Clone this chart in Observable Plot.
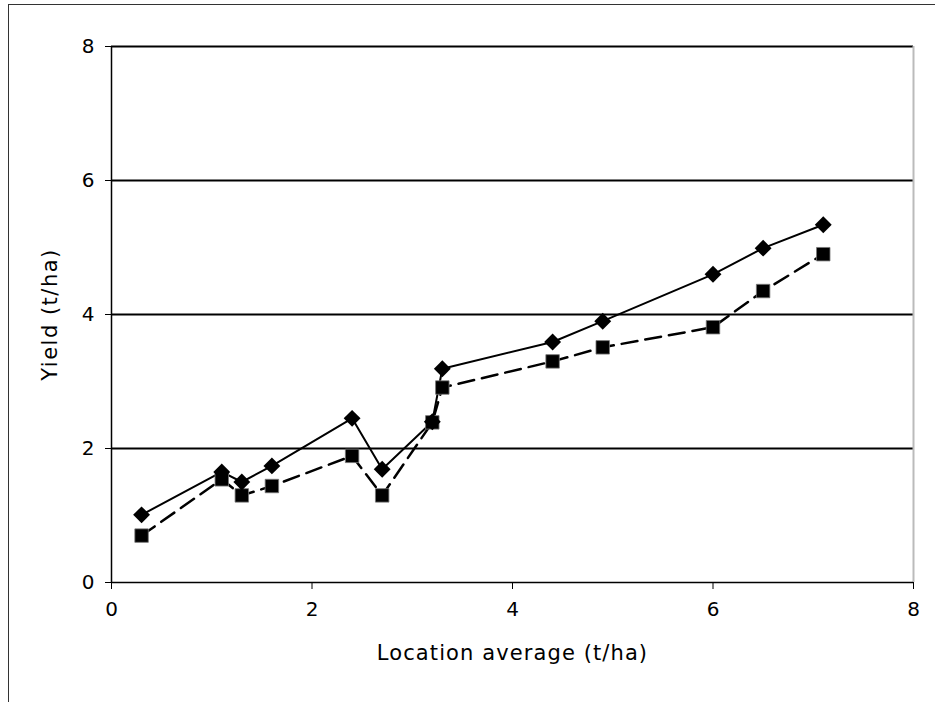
<!DOCTYPE html>
<html><head><meta charset="utf-8">
<script src="https://cdn.jsdelivr.net/npm/d3@7"></script>
<script src="https://cdn.jsdelivr.net/npm/@observablehq/plot@0.6"></script>
<style>
body{margin:0;background:#fff;}
#wrap{position:relative;width:935px;height:702px;overflow:hidden;}
#frame{position:absolute;left:8px;top:4px;right:-10px;bottom:-10px;border-top:1.5px solid #333;border-left:1.5px solid #333;pointer-events:none;}
svg{display:block;}
</style></head><body>
<div id="wrap"><div id="chart"></div><div id="frame"></div></div>
<script>
const locationAvg = [0.3, 1.1, 1.3, 1.6, 2.4, 2.7, 3.2, 3.3, 4.4, 4.9, 6.0, 6.5, 7.1];
const yieldDiamond = [1.01, 1.65, 1.50, 1.74, 2.45, 1.69, 2.40, 3.19, 3.59, 3.90, 4.60, 4.99, 5.34];
const yieldSquare = [0.70, 1.54, 1.30, 1.44, 1.89, 1.30, 2.39, 2.91, 3.30, 3.51, 3.81, 4.35, 4.90];
const xTicks = [0, 2, 4, 6, 8];
const yTicks = [0, 2, 4, 6, 8];
const gridLines = [2, 4, 6, 8];
const xTitle = "Location average (t/ha)";
const yTitle = "Yield (t/ha)";

const diamonds = locationAvg.map((x, i) => ({x, y: yieldDiamond[i]}));
const squares = locationAvg.map((x, i) => ({x, y: yieldSquare[i]}));

const font = "'DejaVu Sans', 'Liberation Sans', sans-serif";

const chart = Plot.plot({
  width: 935,
  height: 702,
  marginLeft: 111,
  marginRight: 22,
  marginTop: 46,
  marginBottom: 120,
  style: {fontFamily: font, fontSize: "20px", color: "#000", background: "#fff"},
  x: {domain: [0, 8]},
  y: {domain: [0, 8]},
  marks: [
    Plot.ruleY(gridLines, {stroke: "#000", strokeWidth: 2}),
    Plot.ruleX([8], {stroke: "#bbb", strokeWidth: 2}),
    Plot.ruleY([0], {stroke: "#000", strokeWidth: 1.5}),
    Plot.ruleX([0], {stroke: "#000", strokeWidth: 1.5}),
    Plot.axisX(xTicks, {tickSize: 7, tickPadding: 12, label: null, fontSize: 20, tickFormat: d => String(d)}),
    Plot.axisY(yTicks, {tickSize: 6, tickPadding: 11, label: null, fontSize: 20, tickFormat: d => String(d)}),
    Plot.line(squares, {x: "x", y: "y", stroke: "#000", strokeWidth: 2.5, strokeDasharray: "16,8"}),
    Plot.line(diamonds, {x: "x", y: "y", stroke: "#000", strokeWidth: 2}),
    Plot.dot(squares, {x: "x", y: "y", symbol: "square", r: 7.6, fill: "#000", stroke: "#777", strokeWidth: 0.8}),
    Plot.dot(diamonds, {x: "x", y: "y", symbol: "diamond2", r: 7.6, fill: "#000", stroke: "none"}),
    Plot.text([yTitle], {frameAnchor: "left", textAnchor: "middle", dx: -61, rotate: -90, fontSize: 21, fill: "#000"}),
    Plot.text([xTitle], {frameAnchor: "bottom", textAnchor: "middle", dy: 77, fontSize: 21, fill: "#000"})
  ]
});
chart.querySelectorAll("text").forEach(t => {
  const s = t.textContent;
  if (s === yTitle) t.setAttribute("letter-spacing", "1.5");
  if (s === xTitle) t.setAttribute("letter-spacing", "1.1");
});
document.getElementById("chart").appendChild(chart);
</script>
</body></html>
